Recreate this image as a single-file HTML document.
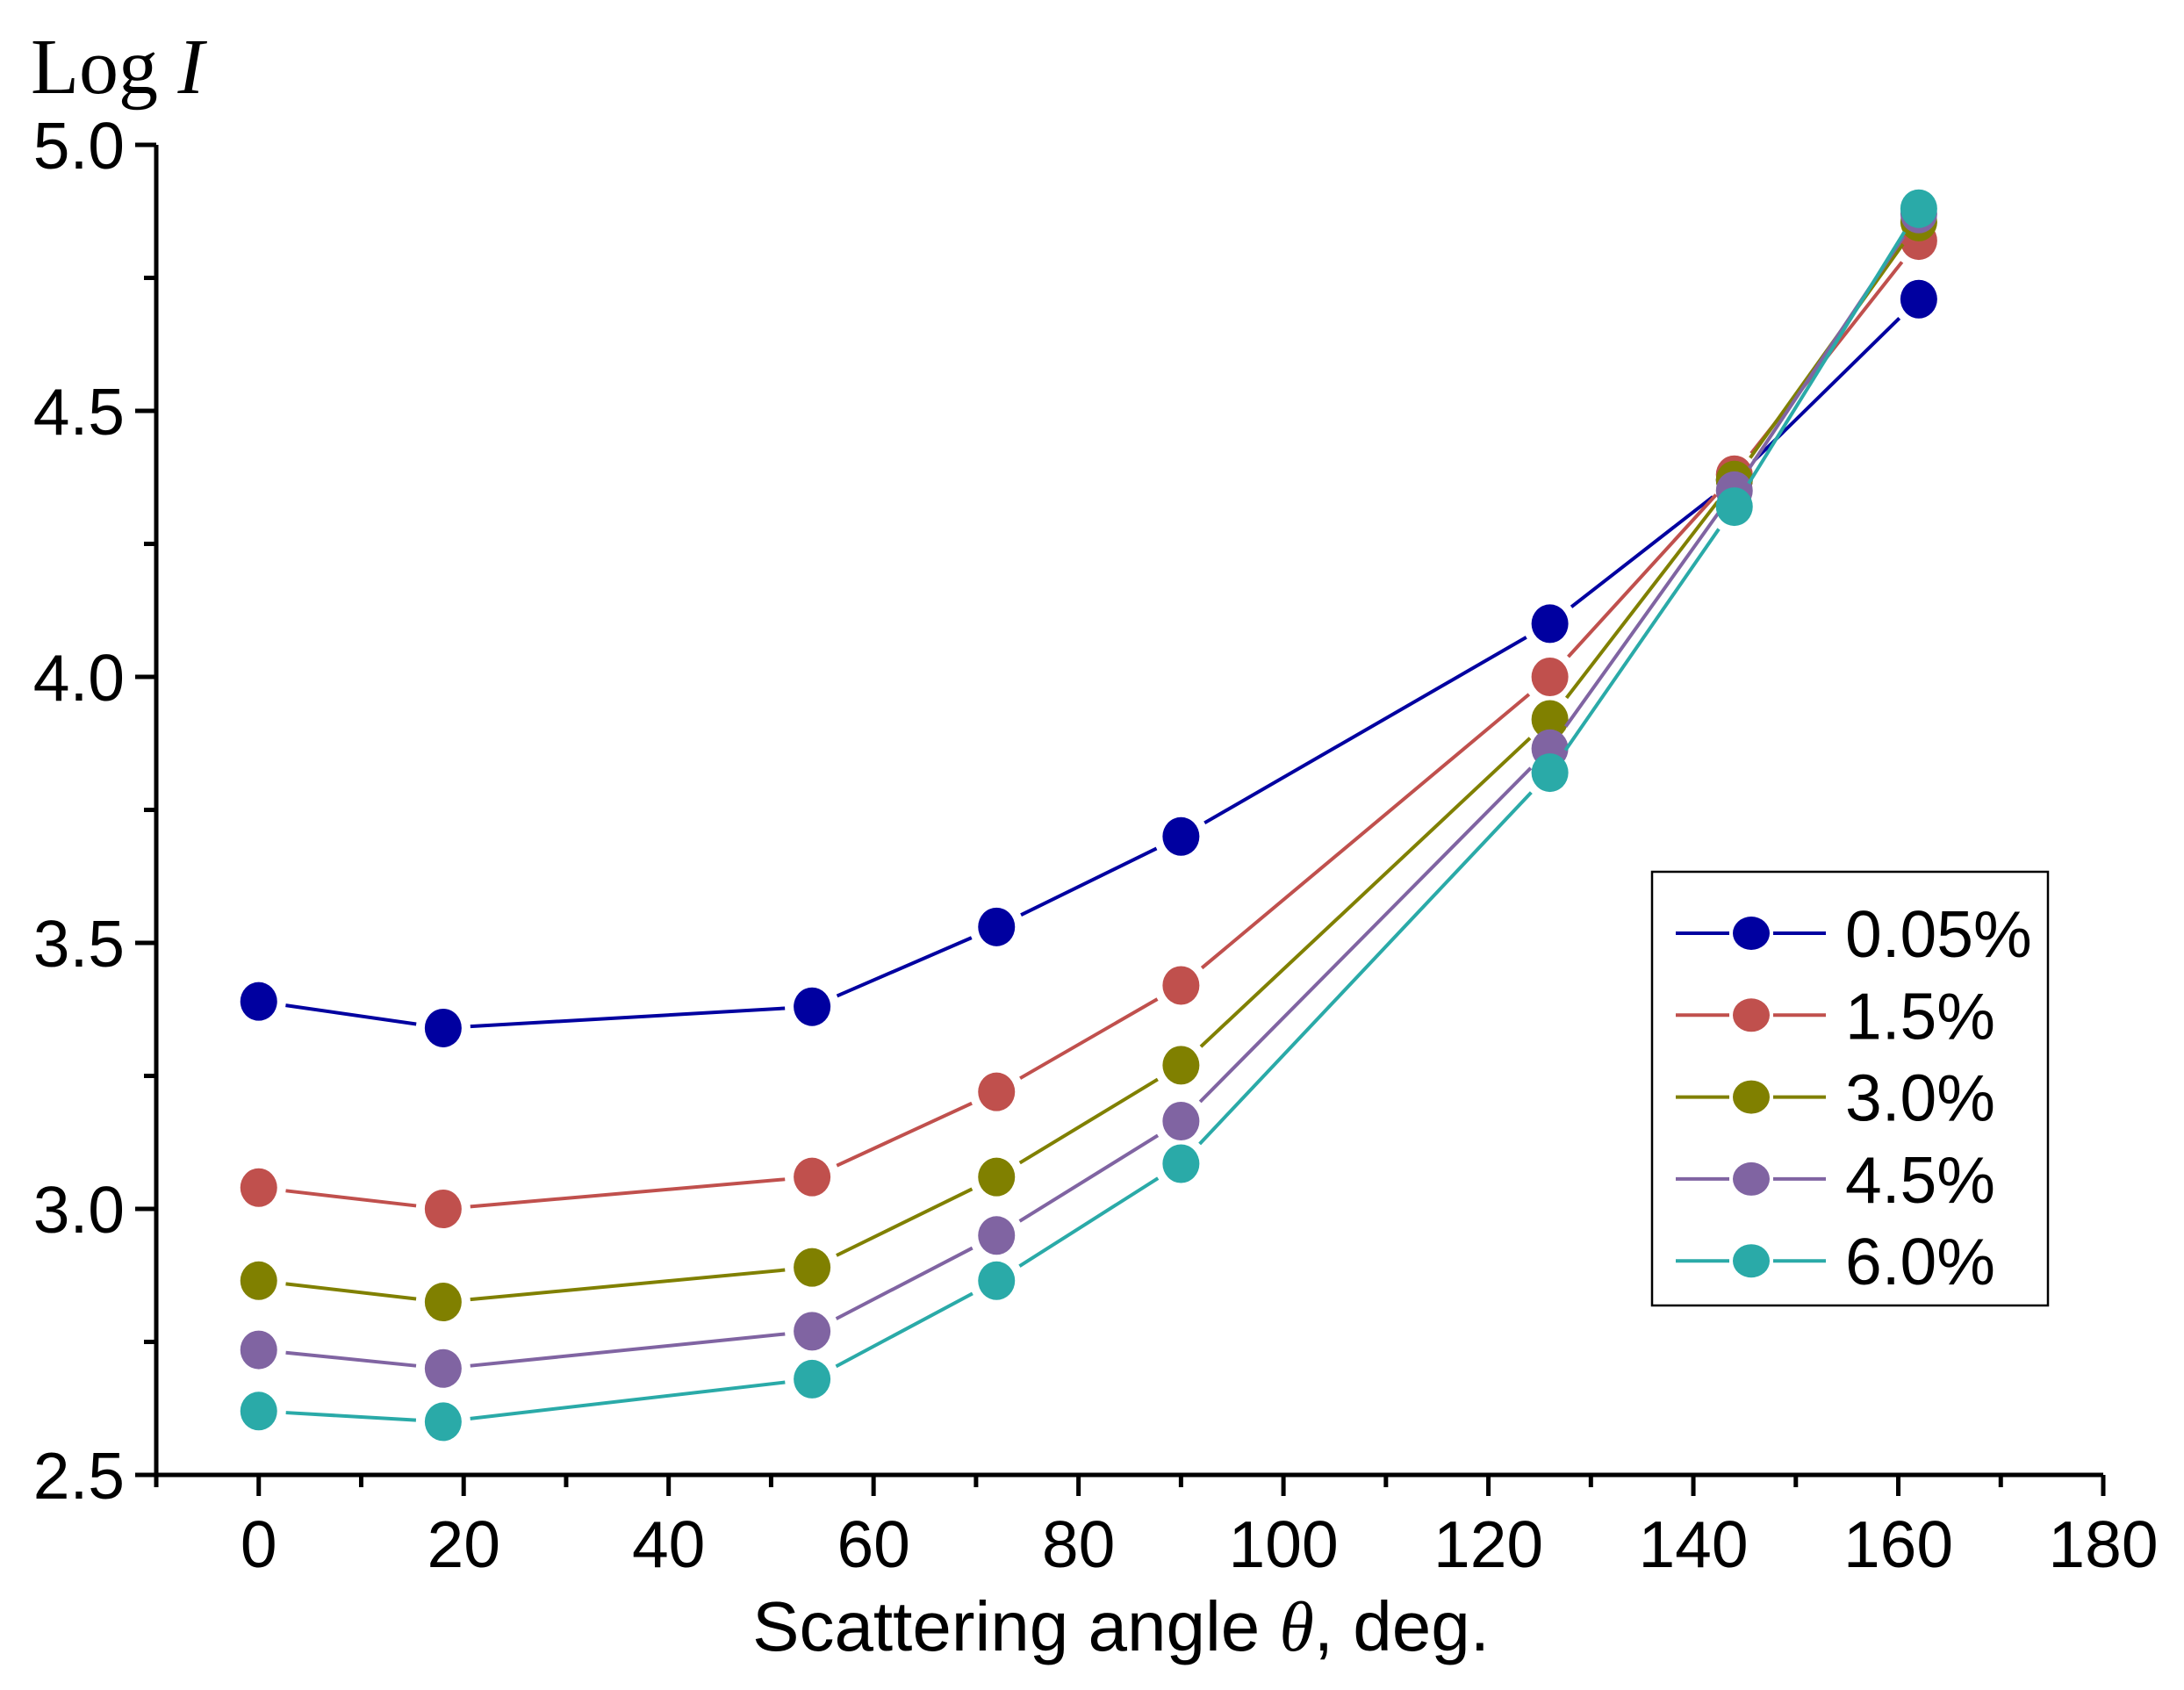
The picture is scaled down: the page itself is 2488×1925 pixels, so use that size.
<!DOCTYPE html>
<html><head><meta charset="utf-8"><style>
html,body{margin:0;padding:0;background:#fff;}
svg{display:block;}
</style></head><body>
<svg id="chart" width="2488" height="1925" viewBox="0 0 2488 1925" xmlns="http://www.w3.org/2000/svg">
<g id="axes"></g>
<g id="series"></g>
<g id="legend"></g>
<text x="35" y="106" font-family="Liberation Serif, serif" font-size="90">Log <tspan font-style="italic">I</tspan></text>
<text x="1277" y="1880" text-anchor="middle" font-family="Liberation Sans, sans-serif" font-size="80">Scattering angle <tspan font-family="Liberation Serif, serif" font-style="italic">θ</tspan>, deg.</text>
</svg>
<script>
const angles = [0, 18, 54, 72, 90, 126, 144, 162];
const seriesNames = ["0.05%", "1.5%", "3.0%", "4.5%", "6.0%"];
const s005 = [3.39, 3.34, 3.38, 3.53, 3.70, 4.10, 4.37, 4.71];
const s15 = [3.04, 3.00, 3.06, 3.22, 3.42, 4.00, 4.38, 4.82];
const s30 = [2.865, 2.825, 2.89, 3.06, 3.27, 3.92, 4.37, 4.855];
const s45 = [2.735, 2.70, 2.77, 2.95, 3.165, 3.865, 4.35, 4.87];
const s60 = [2.62, 2.60, 2.68, 2.865, 3.085, 3.82, 4.32, 4.88];
const seriesColors = ["#0000a0", "#c0504d", "#808000", "#8064a2", "#2aaaa8"];
const xTicks = [0, 20, 40, 60, 80, 100, 120, 140, 160, 180];
const yTicks = ["2.5", "3.0", "3.5", "4.0", "4.5", "5.0"];

const NS = "http://www.w3.org/2000/svg";
const X0 = 178, X1 = 2396, Y0 = 1680, Y1 = 165;
const xMin = -10, xMax = 180, yMin = 2.5, yMax = 5.0;
function xs(v){ return X0 + (v - xMin) / (xMax - xMin) * (X1 - X0); }
function ys(v){ return Y0 - (v - yMin) / (yMax - yMin) * (Y0 - Y1); }
function mk(tag, attrs, parent){ const e = document.createElementNS(NS, tag); for (const k in attrs) e.setAttribute(k, attrs[k]); parent.appendChild(e); return e; }

const axes = document.getElementById("axes");
let l = mk("line", {x1:X0, y1:Y0, x2:X1, y2:Y0, stroke:"#000", "stroke-width":5}, axes);


l = mk("line", {x1:X0, y1:Y0 + 2, x2:X0, y2:Y1, stroke:"#000", "stroke-width":5}, axes);


for (let v = -10; v <= 180; v += 10) {
  const major = v % 20 === 0;
  const t = mk("line", {x1:xs(v), y1:Y0, x2:xs(v), y2:Y0 + (major ? 24 : 14), stroke:"#000", "stroke-width":5}, axes);
  
  
}
xTicks.forEach(v => {
  const t = mk("text", {x:xs(v), y:1785, "text-anchor":"middle", "font-family":"Liberation Sans, sans-serif", "font-size":75}, axes);
  t.textContent = v;
  
  
});
for (let v = 2.5; v <= 5.0001; v += 0.25) {
  const major = Math.abs(v * 2 - Math.round(v * 2)) < 1e-6;
  const t = mk("line", {x1:X0, y1:ys(v), x2:X0 - (major ? 24 : 14), y2:ys(v), stroke:"#000", "stroke-width":5}, axes);
  
  
}
yTicks.forEach(s => {
  const t = mk("text", {x:142, y:ys(parseFloat(s)) + 27, "text-anchor":"end", "font-family":"Liberation Sans, sans-serif", "font-size":75}, axes);
  t.textContent = s;
  
  
});

const allSeries = [s005, s15, s30, s45, s60];
const sg = document.getElementById("series");
const R = 21, GAP = 31;
allSeries.forEach((vals, si) => {
  const g = mk("g", {}, sg);
  
  
  const c = seriesColors[si];
  for (let i = 0; i < vals.length - 1; i++) {
    const ax = xs(angles[i]), ay = ys(vals[i]), bx = xs(angles[i+1]), by = ys(vals[i+1]);
    const d = Math.hypot(bx - ax, by - ay);
    if (d <= 2 * GAP) continue;
    const ux = (bx - ax) / d, uy = (by - ay) / d;
    const s = mk("line", {x1:ax + ux*GAP, y1:ay + uy*GAP, x2:bx - ux*GAP, y2:by - uy*GAP, stroke:c, "stroke-width":4}, g);
    
    
  }
  vals.forEach((v, i) => {
    const p = mk("ellipse", {cx:xs(angles[i]), cy:ys(v), rx:R, ry:R + 1, fill:c}, g);
    
    
  });
});

const lg = document.getElementById("legend");
const box = mk("rect", {x:1882, y:993, width:451, height:494, fill:"#fff", stroke:"#000", "stroke-width":2.5}, lg);


seriesNames.forEach((n, i) => {
  const y = 1063 + i * 93.3;
  const g = mk("g", {}, lg);
  
  
  const c = seriesColors[i];
  mk("line", {x1:1909, y1:y, x2:1970, y2:y, stroke:c, "stroke-width":4}, g);
  mk("line", {x1:2020, y1:y, x2:2080, y2:y, stroke:c, "stroke-width":4}, g);
  mk("ellipse", {cx:1995, cy:y, rx:R, ry:R - 2, fill:c}, g);
  const t = mk("text", {x:2102, y:y + 27, "font-family":"Liberation Sans, sans-serif", "font-size":75}, g);
  t.textContent = n;
  
  
});
</script>
</body></html>
